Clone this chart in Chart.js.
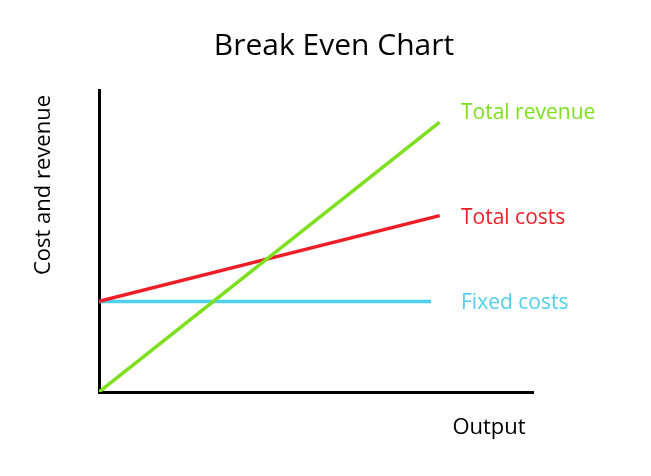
<!DOCTYPE html>
<html>
<head>
<meta charset="utf-8">
<script src="https://cdn.jsdelivr.net/npm/chart.js@4"></script>
<style>
html,body{margin:0;padding:0;background:#fff;}
#wrap{width:651px;height:476px;position:relative;}
</style>
</head>
<body>
<div id="wrap"><canvas id="c" width="651" height="476"></canvas></div>
<script>
const seriesNames = ["Total revenue", "Total costs", "Fixed costs"];
const outputX = [0, 7.85];
const fixedX = [0, 7.65];
const totalRevenue = [0, 89.4];
const totalCosts = [30, 58.4];
const fixedCosts = [30, 30];
const chartTitle = "Break Even Chart";
const xTitle = "Output";
const yTitle = "Cost and revenue";

const colors = ["#7ddf1e", "#ee1d25", "#4fd0ef"];
const FONT = "'Open Sans', sans-serif";

function pts(xs, ys){ return xs.map((x,i)=>({x:x, y:ys[i]})); }

const labelPlugin = {
  id: 'endLabels',
  afterDatasetsDraw(chart){
    const ctx = chart.ctx;
    const ys = chart.scales.y;
    ctx.save();
    ctx.font = "21px " + FONT;
    ctx.textBaseline = 'middle';
    ctx.textAlign = 'left';
    chart.data.datasets.forEach((ds, i) => {
      const last = ds.data[ds.data.length-1];
      ctx.fillStyle = colors[i];
      ctx.fillText(ds.label, 461, ys.getPixelForValue(last.y) + (i===0 ? -9 : 2));
    });
    // titles
    ctx.fillStyle = '#000';
    ctx.textAlign = 'center';
    ctx.font = "30px " + FONT;
    ctx.fillText(chartTitle, 334, 46);
    ctx.font = "22px " + FONT;
    ctx.fillText(xTitle, 489, 428);
    ctx.translate(44, 185);
    ctx.rotate(-Math.PI/2);
    ctx.fillText(yTitle, 0, 0);
    ctx.restore();
  }
};

new Chart(document.getElementById('c'), {
  type: 'line',
  data: {
    datasets: [
      {label: seriesNames[0], data: pts(outputX, totalRevenue), borderColor: colors[0], borderWidth: 3.5, pointRadius: 0, fill: false},
      {label: seriesNames[1], data: pts(outputX, totalCosts), borderColor: colors[1], borderWidth: 3.5, pointRadius: 0, fill: false},
      {label: seriesNames[2], data: pts(fixedX, fixedCosts), borderColor: colors[2], borderWidth: 3.5, pointRadius: 0, fill: false}
    ]
  },
  options: {
    responsive: false,
    animation: false,
    events: [],
    layout: {padding: {left: 99, right: 118, top: 90, bottom: 84}},
    plugins: {legend: {display: false}, title: {display: false}, tooltip: {enabled: false}},
    scales: {
      x: {type: 'linear', min: 0, max: 10, ticks: {display: false}, grid: {display: false},
          border: {display: true, color: '#000', width: 3}, afterFit: s => { s.height = 0; }},
      y: {type: 'linear', min: 0, max: 100, ticks: {display: false}, grid: {display: false},
          border: {display: true, color: '#000', width: 3}, afterFit: s => { s.width = 0; }}
    }
  },
  plugins: [labelPlugin]
});
</script>
</body>
</html>
